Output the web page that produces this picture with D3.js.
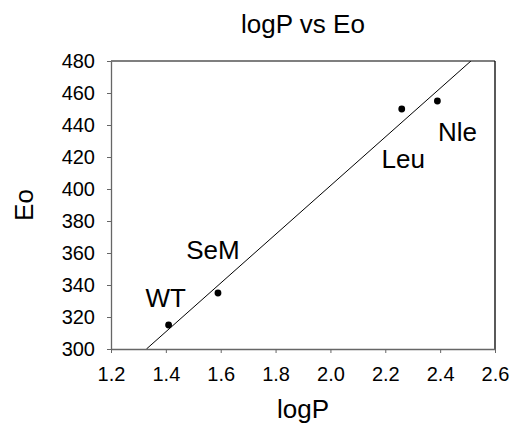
<!DOCTYPE html>
<html>
<head>
<meta charset="utf-8">
<script src="https://cdn.jsdelivr.net/npm/d3@7"></script>
<style>
  html, body { margin: 0; padding: 0; background: #fff; }
  text { font-family: "Liberation Sans", Arial, sans-serif; fill: #000; }
</style>
</head>
<body>
<svg id="chart" width="512" height="424"></svg>
<script>
// Samples: hydrophobicity (logP) against midpoint potential (Eo)
const names = ["WT", "SeM", "Leu", "Nle"];
const logP = [1.41, 1.59, 2.26, 2.39];
const eo = [315, 335, 450, 455];

const xTicks = [1.2, 1.4, 1.6, 1.8, 2.0, 2.2, 2.4, 2.6];
const yTicks = [300, 320, 340, 360, 380, 400, 420, 440, 460, 480];

// Label placement relative to each point (pixels)
const labelOffset = {
  WT: [-3, -18],
  SeM: [-5, -34],
  Leu: [1.5, 59],
  Nle: [20, 40]
};

const svg = d3.select("#chart");
const margin = { left: 111, right: 17, top: 61, bottom: 75 };
const W = 512, H = 424;
const x0 = margin.left, x1 = W - margin.right;
const y0 = H - margin.bottom, y1 = margin.top;

const x = d3.scaleLinear().domain([1.2, 2.6]).range([x0, x1]);
const y = d3.scaleLinear().domain([300, 480]).range([y0, y1]);

// Frame: top and right edges
svg.append("line").attr("x1", x0).attr("x2", x1).attr("y1", y1).attr("y2", y1)
  .attr("stroke", "#555").attr("stroke-width", 1.3);
svg.append("line").attr("x1", x1).attr("x2", x1).attr("y1", y1).attr("y2", y0)
  .attr("stroke", "#000").attr("stroke-width", 1.3);

// Axes
const xAxis = svg.append("g").attr("transform", `translate(0,${y0})`)
  .call(d3.axisBottom(x).tickValues(xTicks).tickFormat(d3.format(".1f"))
    .tickSizeInner(4).tickSizeOuter(0).tickPadding(14));
const yAxis = svg.append("g").attr("transform", `translate(${x0},0)`)
  .call(d3.axisLeft(y).tickValues(yTicks).tickFormat(d3.format("d"))
    .tickSizeInner(4).tickSizeOuter(0).tickPadding(12));

[xAxis, yAxis].forEach(g => {
  g.select(".domain").attr("stroke", "#666").attr("stroke-width", 1.3);
  g.selectAll(".tick line").attr("stroke", "#666");
  g.selectAll(".tick text").style("font-size", "20px").attr("fill", "#000");
});
xAxis.selectAll(".tick text").attr("dy", "0.71em");

// Least-squares regression line, clipped to the plot area
const n = logP.length;
const mx = d3.mean(logP), my = d3.mean(eo);
let sxy = 0, sxx = 0;
for (let i = 0; i < n; i++) {
  sxy += (logP[i] - mx) * (eo[i] - my);
  sxx += (logP[i] - mx) ** 2;
}
const slope = sxy / sxx;
const intercept = my - slope * mx;
const xAtY = v => (v - intercept) / slope;

svg.append("clipPath").attr("id", "plotClip").append("rect")
  .attr("x", x0).attr("y", y1).attr("width", x1 - x0).attr("height", y0 - y1);

svg.append("line")
  .attr("clip-path", "url(#plotClip)")
  .attr("x1", x(xAtY(300))).attr("y1", y(300))
  .attr("x2", x(xAtY(480))).attr("y2", y(480))
  .attr("stroke", "#000").attr("stroke-width", 1);

// Points
svg.append("g").selectAll("circle").data(names).join("circle")
  .attr("cx", (d, i) => x(logP[i]))
  .attr("cy", (d, i) => y(eo[i]))
  .attr("r", 3.4)
  .attr("fill", "#000");

// Point labels
svg.append("g").selectAll("text").data(names).join("text")
  .attr("x", (d, i) => x(logP[i]) + labelOffset[d][0])
  .attr("y", (d, i) => y(eo[i]) + labelOffset[d][1])
  .attr("text-anchor", "middle")
  .style("font-size", "26px")
  .text(d => d);

// Title and axis titles
svg.append("text").attr("x", (x0 + x1) / 2).attr("y", 33)
  .attr("text-anchor", "middle").style("font-size", "26px").text("logP vs Eo");
svg.append("text").attr("x", (x0 + x1) / 2).attr("y", 417.5)
  .attr("text-anchor", "middle").style("font-size", "26px").text("logP");
svg.append("text")
  .attr("transform", `translate(32.5,${(y0 + y1) / 2}) rotate(-90)`)
  .attr("text-anchor", "middle").style("font-size", "26px").text("Eo");
</script>
</body>
</html>
